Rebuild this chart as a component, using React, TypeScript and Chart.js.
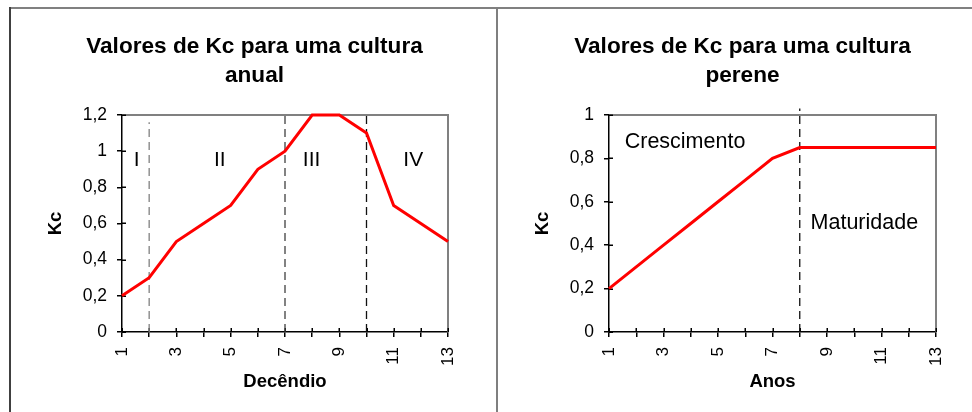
import React, { useEffect, useRef } from 'react';
import { Chart, registerables } from 'chart.js';

Chart.register(...registerables);

// ---------- data ----------
const decendios = [1, 2, 3, 4, 5, 6, 7, 8, 9, 10, 11, 12, 13];
const kcAnual = [0.2, 0.3, 0.5, 0.6, 0.7, 0.9, 1.0, 1.2, 1.2, 1.1, 0.7, 0.6, 0.5];

const anos = [1, 2, 3, 4, 5, 6, 7, 8, 9, 10, 11, 12, 13];
const kcPerene = [0.2, 0.3, 0.4, 0.5, 0.6, 0.7, 0.8, 0.85, 0.85, 0.85, 0.85, 0.85, 0.85];

// phase limits (x) and the height their dashed lines reach (y)
const fasesAnualX = [2, 7, 10];
const fasesAnualTopo = [1.16, 1.22, 1.2];
const fasesPereneX = [8];
const fasesPereneTopo = [1.03];

// phase names and where they sit (data units)
const rotulosAnual = ['I', 'II', 'III', 'IV'];
const rotulosAnualX = [1.54, 4.6, 7.98, 11.72];
const rotulosAnualY = [0.95, 0.95, 0.95, 0.95];
const rotulosPerene = ['Crescimento', 'Maturidade'];
const rotulosPereneX = [3.79, 10.37];
const rotulosPereneY = [0.876, 0.502];

const tituloAnual = ['Valores de Kc para uma cultura', 'anual'];
const tituloPerene = ['Valores de Kc para uma cultura', 'perene'];

// styles of the dashed phase lines
const coresFasesAnual = ['#808080', '#404040', '#111111'];
const coresFasesPerene = ['#111111'];

const FONT = "'Liberation Sans', Arial, Helvetica, sans-serif";

const framePlugin = {
  id: 'frame',
  beforeDatasetsDraw(chart: any) {
    const { ctx, chartArea: a } = chart;
    ctx.save();
    ctx.strokeStyle = '#808080';
    ctx.lineWidth = 2;
    ctx.beginPath();
    ctx.moveTo(a.left, a.top);
    ctx.lineTo(a.right, a.top);
    ctx.lineTo(a.right, a.bottom);
    ctx.stroke();
    // inner half of the crossing tick marks
    ctx.strokeStyle = '#000';
    ctx.lineWidth = 1.5;
    const xs = chart.scales.x;
    const ys = chart.scales.y;
    ctx.beginPath();
    xs.ticks.forEach((t: any) => {
      const p = Math.round(xs.getPixelForValue(t.value)) + 0.25;
      ctx.moveTo(p, a.bottom);
      ctx.lineTo(p, a.bottom - 4);
    });
    ys.ticks.forEach((t: any) => {
      const p = Math.round(ys.getPixelForValue(t.value)) + 0.25;
      ctx.moveTo(a.left, p);
      ctx.lineTo(a.left + 4, p);
    });
    ctx.stroke();
    ctx.restore();
  },
  afterDatasetsDraw(chart: any, _args: any, opts: any) {
    const { ctx } = chart;
    const xs = chart.scales.x;
    const ys = chart.scales.y;
    const labels = opts.labels || [];
    ctx.save();
    ctx.fillStyle = '#000';
    ctx.textAlign = 'center';
    ctx.textBaseline = 'middle';
    labels.forEach((l: any) => {
      ctx.font = `${l.size}px ${FONT}`;
      ctx.fillText(l.text, xs.getPixelForValue(l.x), ys.getPixelForValue(l.y));
    });
    ctx.restore();
  },
};

type Props = {
  left: number;
  width: number;
  xs: number[];
  ys: number[];
  yMax: number;
  xTitle: string;
  title: string[];
  fasesX: number[];
  fasesTopo: number[];
  fasesCores: string[];
  labels: { text: string; x: number; y: number; size: number }[];
  padLeft: number;
  yWidth: number;
  y2Width: number;
  yTitlePad: number;
};

function KcChart(p: Props) {
  const ref = useRef<HTMLCanvasElement>(null);
  useEffect(() => {
    if (!ref.current) return;
    const datasets: any[] = [
      {
        data: p.xs.map((x, i) => ({ x, y: p.ys[i] })),
        borderColor: '#ff0000',
        borderWidth: 3,
        pointRadius: 0,
        tension: 0,
        clip: false,
      },
    ];
    p.fasesX.forEach((fx, i) => {
      datasets.push({
        data: [
          { x: fx, y: 0 },
          { x: fx, y: p.fasesTopo[i] },
        ],
        borderColor: p.fasesCores[i],
        borderWidth: 1.3,
        borderDash: [8, 5],
        pointRadius: 0,
        clip: false,
      });
    });
    const chart = new Chart(ref.current, {
      type: 'line',
      data: { datasets },
      plugins: [framePlugin],
      options: {
        animation: false,
        responsive: false,
        devicePixelRatio: 1,
        layout: { padding: { left: p.padLeft, right: 0, top: 0, bottom: 0 } },
        scales: {
          x: {
            type: 'linear',
            min: 1,
            max: 13,
            afterFit: (s: any) => {
              s.height = 80;
            },
            ticks: {
              stepSize: 1,
              autoSkip: false,
              minRotation: 90,
              maxRotation: 90,
              padding: 10,
              color: '#000',
              font: { size: 17, family: FONT },
              callback: (v: any) => (Number(v) % 2 === 1 ? String(v) : ''),
            },
            grid: {
              drawOnChartArea: false,
              drawTicks: true,
              tickLength: 5,
              color: '#000',
              lineWidth: 1.5,
            },
            border: { display: true, color: '#000', width: 1.5 },
            title: {
              display: true,
              text: p.xTitle,
              color: '#000',
              font: { size: 18.5, weight: 'bold', family: FONT, lineHeight: 1.2 },
              padding: { top: 0, bottom: 19 },
            },
          },
          y: {
            type: 'linear',
            min: 0,
            max: p.yMax,
            afterFit: (s: any) => {
              s.width = p.yWidth;
            },
            ticks: {
              stepSize: 0.2,
              padding: 10,
              color: '#000',
              font: { size: 17.5, family: FONT },
              callback: (v: any) => String(Math.round(Number(v) * 10) / 10).replace('.', ','),
            },
            grid: {
              drawOnChartArea: false,
              drawTicks: true,
              tickLength: 5,
              color: '#000',
              lineWidth: 1.5,
            },
            border: { display: true, color: '#000', width: 1.5 },
            title: {
              display: true,
              text: 'Kc',
              color: '#000',
              font: { size: 18.5, weight: 'bold', family: FONT, lineHeight: 1.2 },
              padding: { top: p.yTitlePad, bottom: 0 },
            },
          },
          y2: {
            type: 'linear',
            position: 'right',
            display: true,
            afterFit: (s: any) => {
              s.width = p.y2Width;
            },
            ticks: { display: false },
            grid: { display: false },
            border: { display: false },
          },
        },
        plugins: {
          legend: { display: false },
          tooltip: { enabled: false },
          title: {
            display: true,
            text: p.title,
            color: '#000',
            font: { size: 22.6, weight: 'bold', family: FONT, lineHeight: 1.283 },
            padding: { top: 32.5, bottom: 24.5 },
          },
          frame: { labels: p.labels },
        } as any,
      },
    });
    return () => chart.destroy();
  }, []);
  return (
    <canvas
      ref={ref}
      width={p.width}
      height={412}
      style={{ position: 'absolute', left: p.left, top: 0, width: p.width, height: 412 }}
    />
  );
}

export default function App() {
  const anualLabels = rotulosAnual.map((t, i) => ({ text: t, x: rotulosAnualX[i], y: rotulosAnualY[i], size: 21 }));
  const pereneLabels = rotulosPerene.map((t, i) => ({ text: t, x: rotulosPereneX[i], y: rotulosPereneY[i], size: 21.5 }));
  return (
    <div
      style={{
        position: 'absolute',
        left: 0,
        top: 0,
        width: 972,
        height: 412,
        background: '#fff',
        overflow: 'hidden',
      }}
    >
      <KcChart
        left={0}
        width={497}
        xs={decendios}
        ys={kcAnual}
        yMax={1.2}
        xTitle="Decêndio"
        title={tituloAnual}
        fasesX={fasesAnualX}
        fasesTopo={fasesAnualTopo}
        fasesCores={coresFasesAnual}
        labels={anualLabels}
        padLeft={12}
        yWidth={110}
        y2Width={49}
        yTitlePad={32.5}
      />
      <KcChart
        left={497}
        width={475}
        xs={anos}
        ys={kcPerene}
        yMax={1}
        xTitle="Anos"
        title={tituloPerene}
        fasesX={fasesPereneX}
        fasesTopo={fasesPereneTopo}
        fasesCores={coresFasesPerene}
        labels={pereneLabels}
        padLeft={16}
        yWidth={96}
        y2Width={36}
        yTitlePad={18.8}
      />
      <div style={{ position: 'absolute', left: 10, top: 7, width: 962, height: 2, background: '#808080' }} />
      <div style={{ position: 'absolute', left: 9, top: 7, width: 2, height: 405, background: '#404040' }} />
      <div style={{ position: 'absolute', left: 496, top: 7, width: 2, height: 405, background: '#7f7f7f' }} />
    </div>
  );
}
